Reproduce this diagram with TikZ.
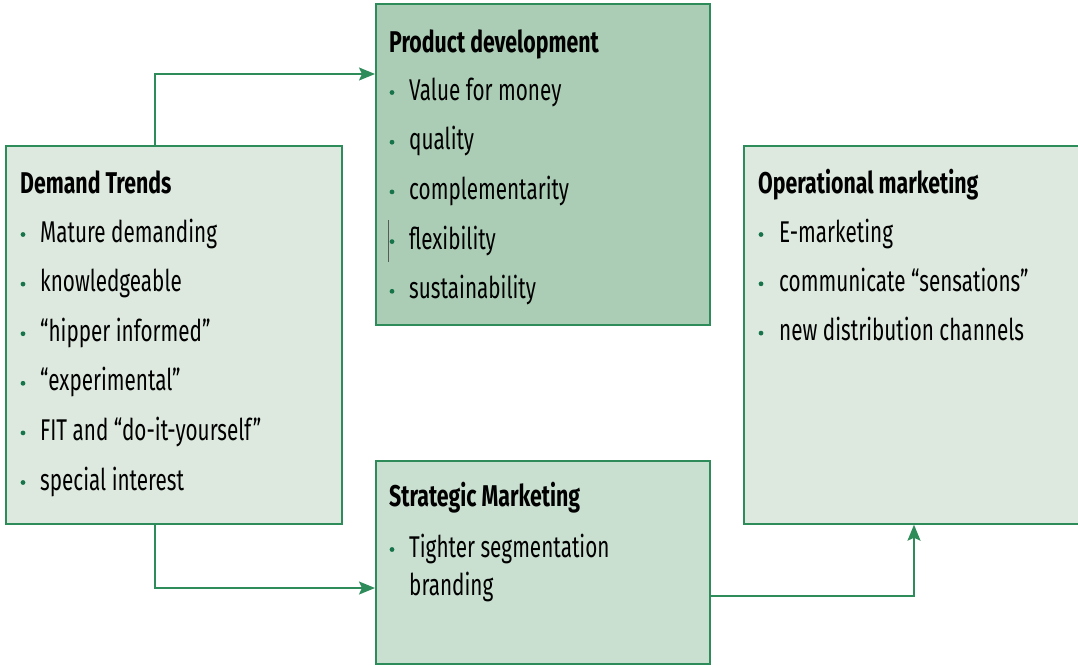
\documentclass[tikz,border=0pt]{standalone}
\usepackage{fontspec}
\setmainfont[FakeStretch=0.69]{Fira Sans}
\newfontfamily\ttlfont[FakeStretch=0.71]{Fira Sans}
\usetikzlibrary{arrows.meta,calc}
\definecolor{edgegreen}{HTML}{2E8B5A}
\definecolor{lightfill}{HTML}{DDE9DF}
\definecolor{darkfill}{HTML}{ABCDB5}
\definecolor{midfill}{HTML}{C9DFD0}
\definecolor{dotgreen}{HTML}{17744A}
\tikzset{
  panel/.style={draw=edgegreen,line width=1.7pt,rectangle,anchor=north west,inner sep=0pt},
  ttl/.style={anchor=base west,inner sep=0pt,font=\ttlfont\fontsize{30}{33}\selectfont\bfseries},
  itm/.style={anchor=base west,inner sep=0pt,font=\fontsize{30}{33}\selectfont},
  conn/.style={draw=edgegreen,line width=1.8pt,-{Stealth[length=16pt,width=13pt,inset=3pt]}},
}
\begin{document}
\begin{tikzpicture}[x=1pt,y=-1pt]
\useasboundingbox (0,0) rectangle (1078,665);
% panels
\node[panel,fill=lightfill,minimum width=336pt,minimum height=378pt] (dem) at (5,145) {};
\node[panel,fill=darkfill,minimum width=334pt,minimum height=321pt] (prod) at (375,3) {};
\node[panel,fill=lightfill,minimum width=336pt,minimum height=378pt] (ops) at (743,145) {};
\node[panel,fill=midfill,minimum width=334pt,minimum height=203pt] (strat) at (375,460) {};
% Demand Trends
\node[ttl] (demT) at (20,193) {Demand Trends};
\foreach \t [count=\i] in {Mature demanding,knowledgeable,“hipper informed”,“experimental”,FIT and “do-it-yourself”,special interest}{
  \pgfmathsetmacro{\yy}{242+(\i-1)*49.6}
  \node[itm] (dem\i) at (40,\yy) {\t};
  \fill[dotgreen] (23,\yy-7.5) circle (2.4);
}
% Product development
\node[ttl] (prodT) at (389,52) {Product development};
\foreach \t [count=\i] in {Value for money,quality,complementarity,flexibility,sustainability}{
  \pgfmathsetmacro{\yy}{100+(\i-1)*49.7}
  \node[itm] (prod\i) at (409,\yy) {\t};
  \fill[dotgreen] (392,\yy-7.5) circle (2.4);
}
\draw[gray!70!black,line width=0.8pt] (388.5,220) -- (388.5,262);
% Operational marketing
\node[ttl] (opsT) at (758,193) {Operational marketing};
\foreach \t [count=\i] in {E-marketing,communicate “sensations”,new distribution channels}{
  \pgfmathsetmacro{\yy}{242+(\i-1)*49.3}
  \node[itm] (ops\i) at (779,\yy) {\t};
  \fill[dotgreen] (761,\yy-7.5) circle (2.4);
}
% Strategic Marketing
\node[ttl] (stratT) at (389,506) {Strategic Marketing};
\node[itm] (strat1) at (409,557) {Tighter segmentation};
\fill[dotgreen] (392,549.5) circle (2.4);
\node[itm] (strat2) at (409,595) {branding};
% connectors
\coordinate (c1) at (155,74);
\coordinate (c2) at (155,588);
\coordinate (c3) at (914,596);
\draw[conn] (dem.north -| c1) |- (prod.west |- c1);
\draw[conn] (dem.south -| c2) |- (strat.west |- c2);
\draw[conn] (strat.east |- c3) -| (ops.south -| c3);
\end{tikzpicture}
\end{document}
